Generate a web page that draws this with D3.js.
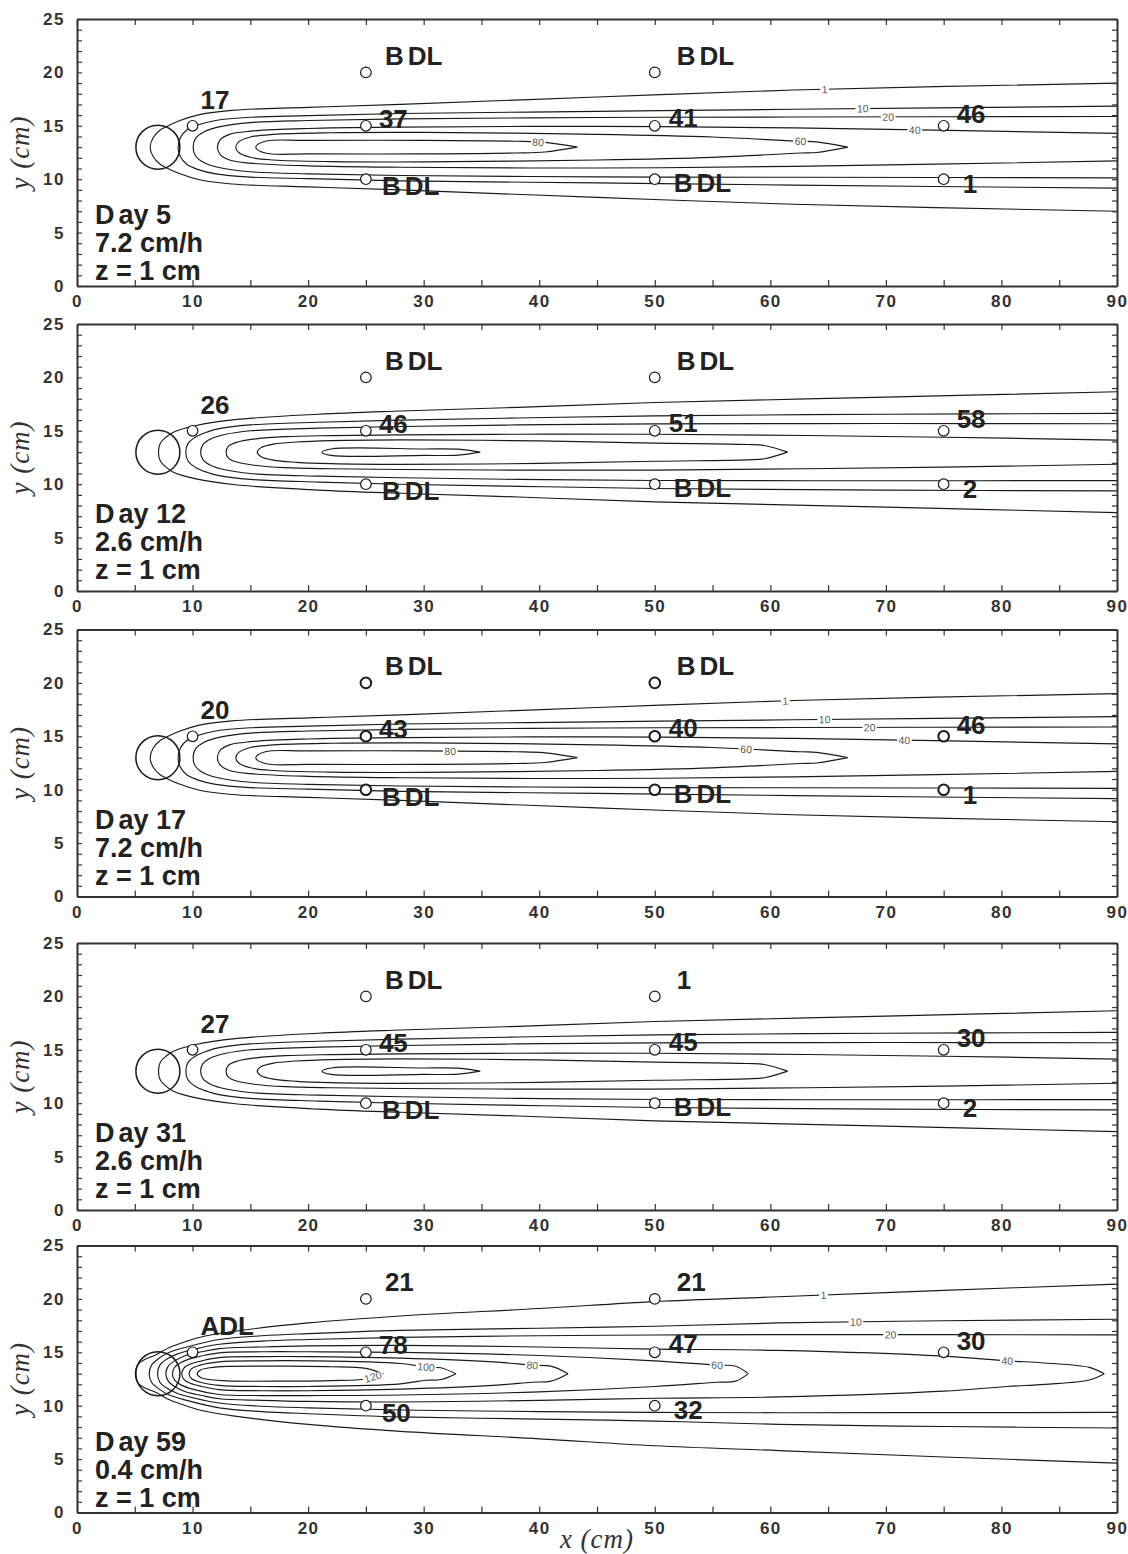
<!DOCTYPE html>
<html><head><meta charset="utf-8">
<script src="https://cdn.jsdelivr.net/npm/d3@7"></script>
<style>body{margin:0;background:#fff;} svg{display:block;}</style>
</head><body>
<svg id="chart" width="1128" height="1554"></svg>
<script>
// ================= DATA =================
const xTicks = [0, 10, 20, 30, 40, 50, 60, 70, 80, 90];
const yTicks = [0, 5, 10, 15, 20, 25];
const sourceX = 7, sourceY = 13;      // injection source (cm)
const plumeCenterY = 13;              // plume centre line (cm)

const panelDays  = ["Day 5", "Day 12", "Day 17", "Day 31", "Day 59"];
const panelRates = ["7.2 cm/h", "2.6 cm/h", "7.2 cm/h", "2.6 cm/h", "0.4 cm/h"];
const panelDepth = "z = 1 cm";

const samplePointsFull  = [[10,15],[25,20],[25,15],[25,10],[50,20],[50,15],[50,10],[75,15],[75,10]];
const samplePointsDay59 = [[10,15],[25,20],[25,15],[25,10],[50,20],[50,15],[50,10],[75,15]];
const sampleLabelsDay5  = ["17","BDL","37","BDL","BDL","41","BDL","46","1"];
const sampleLabelsDay12 = ["26","BDL","46","BDL","BDL","51","BDL","58","2"];
const sampleLabelsDay17 = ["20","BDL","43","BDL","BDL","40","BDL","46","1"];
const sampleLabelsDay31 = ["27","BDL","45","BDL","1","45","BDL","30","2"];
const sampleLabelsDay59 = ["ADL","21","78","50","21","47","32","30"];

// contour half-width profiles [x (cm), half width from centre line (cm)]
// 7.2 cm/h (Day 5, Day 17)
const hw72_1  = [[6.33,0],[6.6,0.9],[7.2,1.6],[7.6,1.85],[8.8,2.45],[10.6,3.05],[13.4,3.45],[20,3.72],[28,4.0],[45,4.7],[62,5.35],[90,6.0]];
const hw72_10 = [[8.75,0],[8.95,0.9],[9.5,1.6],[10.5,2.1],[12,2.5],[15,2.8],[20,2.95],[28,3.15],[45,3.35],[62,3.55],[90,3.84]];
const hw72_20 = [[10.05,0],[10.25,0.8],[11,1.45],[12.5,1.95],[15,2.3],[20,2.5],[28,2.65],[45,2.78],[62,2.82],[90,2.87]];
const hw72_40 = [[12.15,0],[12.4,0.7],[13.2,1.2],[15,1.5],[20,1.75],[28,1.88],[45,1.95],[62,1.8],[90,1.29]];
const hw72_60 = [[13.74,0],[14,0.5],[15,0.95],[17,1.2],[22,1.35],[30,1.38],[45,1.2],[55,0.95],[62.6,0.55],[64,0.5],[66.7,0]];
const hw72_80 = [[15.47,0],[16.3,0.55],[20,0.63],[30,0.63],[38,0.55],[40.5,0.45],[43.3,0]];
// 2.6 cm/h (Day 12, Day 31)
const hw26_1  = [[7.05,0],[7.2,0.8],[7.7,1.4],[8.3,1.85],[10.3,2.5],[13.7,3.05],[20.9,3.55],[28,3.85],[38.2,4.2],[50,4.65],[70,5.15],[90,5.66]];
const hw26_10 = [[9.42,0],[9.6,0.8],[10.3,1.45],[11.3,1.9],[12.3,2.2],[15,2.55],[20.9,2.8],[28,3.0],[38.2,3.2],[50,3.4],[70,3.55],[90,3.63]];
const hw26_20 = [[10.7,0],[10.9,0.7],[11.6,1.25],[12.8,1.65],[15,2.0],[20.9,2.25],[28,2.4],[38.2,2.55],[50,2.65],[70,2.68],[90,2.66]];
const hw26_40 = [[12.9,0],[13.1,0.55],[13.9,0.95],[15.5,1.25],[18,1.45],[22,1.55],[28,1.62],[38.2,1.68],[50,1.68],[75,1.4],[90,1.13]];
const hw26_60 = [[15.6,0],[15.9,0.4],[17,0.75],[19,0.95],[22,1.08],[28,1.15],[40,1.05],[50,0.85],[58,0.72],[59.5,0.62],[61.5,0]];
const hw26_80 = [[21.2,0],[22,0.3],[30,0.3],[33,0.28],[34.9,0]];
// 0.4 cm/h (Day 59)
const hw04_1   = [[5.05,0],[5.3,0.9],[5.9,1.35],[6.8,1.75],[8,2.45],[9.4,3.0],[11,3.5],[13.5,3.95],[20,4.75],[28,5.4],[40,6.1],[50,6.75],[60.7,7.2],[75,7.8],[90,8.38]];
const hw04_10  = [[6.25,0],[6.45,0.8],[7.05,1.4],[8,2.0],[9.5,2.5],[12.3,3.2],[16,3.55],[20,3.75],[28,4.05],[40,4.25],[50,4.44],[60.7,4.75],[75,4.95],[90,5.09]];
const hw04_20  = [[6.97,0],[7.17,0.8],[7.75,1.35],[8.7,1.85],[10.2,2.3],[12.3,2.75],[16,3.05],[20,3.2],[28,3.4],[40,3.55],[50,3.62],[60.7,3.66],[75,3.65],[90,3.63]];
const hw04_40  = [[7.69,0],[7.9,0.7],[8.45,1.2],[9.4,1.7],[10.8,2.05],[12.3,2.35],[16,2.5],[20,2.6],[28,2.65],[40,2.5],[50,2.3],[60.7,2.18],[75,1.64],[80.5,1.2],[83.75,1.0],[87.6,0.59],[88.9,0]];
const hw04_60  = [[8.26,0],[8.45,0.6],[9.0,1.05],[10,1.45],[12.3,1.95],[16,2.05],[20,2.05],[28,2.0],[40,1.7],[50,1.2],[55.4,0.8],[57,0.7],[58.1,0]];
const hw04_80  = [[9.07,0],[9.27,0.55],[9.8,0.9],[10.8,1.2],[12.3,1.5],[16,1.6],[20,1.6],[28,1.45],[36,1.1],[39.4,0.8],[41,0.7],[42.5,0]];
const hw04_100 = [[9.7,0],[9.9,0.45],[10.6,0.78],[12.3,1.1],[16,1.2],[20,1.2],[28,0.95],[30.2,0.62],[31.5,0.55],[32.8,0]];
const hw04_120 = [[10.4,0],[10.7,0.35],[11.5,0.55],[13,0.68],[18,0.7],[22,0.65],[25,0.5],[26.5,0]];

// contour label positions [level, x (cm), branch]
const contourLabelsDay5  = [[1,64.7,"u"],[10,68.0,"u"],[20,70.2,"u"],[40,72.5,"u"],[60,62.6,"u"],[80,39.9,"u"]];
const contourLabelsDay17 = [[1,61.3,"u"],[10,64.7,"u"],[20,68.6,"u"],[40,71.6,"u"],[60,57.9,"u"],[80,32.3,"u"]];
const contourLabelsDay59 = [[1,64.6,"u"],[10,67.4,"u"],[20,70.4,"u"],[40,80.5,"u"],[60,55.4,"u"],[80,39.4,"u"],[100,30.2,"u"],[120,25.6,"l"]];

// ================= LAYOUT =================
const contours72 = [[1,hw72_1],[10,hw72_10],[20,hw72_20],[40,hw72_40],[60,hw72_60],[80,hw72_80]];
const contours26 = [[1,hw26_1],[10,hw26_10],[20,hw26_20],[40,hw26_40],[60,hw26_60],[80,hw26_80]];
const contours04 = [[1,hw04_1],[10,hw04_10],[20,hw04_20],[40,hw04_40],[60,hw04_60],[80,hw04_80],[100,hw04_100],[120,hw04_120]];

const panels = [
  {day: panelDays[0], rate: panelRates[0], pts: samplePointsFull,  labels: sampleLabelsDay5,  contours: contours72, clabels: contourLabelsDay5,  heavy: false},
  {day: panelDays[1], rate: panelRates[1], pts: samplePointsFull,  labels: sampleLabelsDay12, contours: contours26, clabels: [],                 heavy: false},
  {day: panelDays[2], rate: panelRates[2], pts: samplePointsFull,  labels: sampleLabelsDay17, contours: contours72, clabels: contourLabelsDay17, heavy: true},
  {day: panelDays[3], rate: panelRates[3], pts: samplePointsFull,  labels: sampleLabelsDay31, contours: contours26, clabels: [],                 heavy: false},
  {day: panelDays[4], rate: panelRates[4], pts: samplePointsDay59, labels: sampleLabelsDay59, contours: contours04, clabels: contourLabelsDay59, heavy: false}
];

const L = 77, R = 1117, PH = 267;
const panelTops = [19, 324, 629.5, 943, 1245.5];
const textBottom = [6, 12, 12, 12, 6];
const labelOffset = {"10,15":[8,-17],"25,20":[19,-7.5],"25,15":[13,2],"25,10":[16,16],"50,20":[22,-7.5],"50,15":[14,1],"50,10":[19,13],"75,15":[13,-2.5],"75,10":[19,14]};
const ink = "#222";
const BOLD = "'Liberation Sans', Arial, Helvetica, sans-serif";

const svg = d3.select("#chart");
svg.append("rect").attr("width",1128).attr("height",1554).attr("fill","#fff");

function hAt(profile, x){
  for (let i=0;i<profile.length-1;i++){
    const [x0,h0]=profile[i],[x1,h1]=profile[i+1];
    if (x>=x0 && x<=x1) return h0+(h1-h0)*(x-x0)/(x1-x0);
  }
  return profile[profile.length-1][1];
}

panels.forEach((p, i) => {
  const top = panelTops[i], bot = top + PH;
  const xs = d3.scaleLinear().domain([0,90]).range([L,R]);
  const ys = d3.scaleLinear().domain([0,25]).range([bot,top]);
  const g = svg.append("g");

  const clipId = "clip"+i;
  svg.append("clipPath").attr("id",clipId).append("rect")
    .attr("x",L).attr("y",top).attr("width",R-L).attr("height",PH);

  // contours
  const line = d3.line().x(d=>xs(d[0])).y(d=>ys(d[1])).curve(d3.curveCatmullRom.alpha(0.5));
  const cg = g.append("g").attr("clip-path",`url(#${clipId})`);
  p.contours.forEach(([lvl, prof]) => {
    const upper = prof.map(([x,h]) => [x, plumeCenterY + h]);
    const lower = prof.slice(1).map(([x,h]) => [x, plumeCenterY - h]).reverse();
    cg.append("path").attr("d", line(lower.concat(upper)))
      .attr("fill","none").attr("stroke","#1a1a1a").attr("stroke-width",1.15);
  });

  // contour labels
  p.clabels.forEach(([lvl, x, br]) => {
    const prof = p.contours.find(c=>c[0]===lvl)[1];
    const sgn = br==="u" ? 1 : -1;
    const yv = plumeCenterY + sgn*hAt(prof,x);
    const X = xs(x), Y = ys(yv);
    const X1 = xs(x-0.6), Y1 = ys(plumeCenterY + sgn*hAt(prof,x-0.6));
    const X2 = xs(x+0.6), Y2 = ys(plumeCenterY + sgn*hAt(prof,x+0.6));
    const ang = Math.atan2(Y2-Y1, X2-X1)*180/Math.PI;
    const lg = cg.append("g").attr("transform",`translate(${X},${Y}) rotate(${ang})`);
    const bg = lg.append("rect").attr("fill","#fff");
    const t = lg.append("text").text(lvl).attr("text-anchor","middle").attr("dy","0.36em")
      .attr("font-family","'Liberation Sans', Arial, sans-serif").attr("font-size",10.5).attr("fill","#5a5a5a");
    const w = t.node().getComputedTextLength();
    bg.attr("x",-w/2-1.5).attr("y",-3.6).attr("width",w+3).attr("height",7.2);
  });

  // source circle
  g.append("circle").attr("cx",xs(sourceX)).attr("cy",ys(sourceY)).attr("r",22)
    .attr("fill","none").attr("stroke","#1a1a1a").attr("stroke-width",1.5);

  // sample points
  p.pts.forEach(([x,y], k) => {
    g.append("circle").attr("cx",xs(x)).attr("cy",ys(y)).attr("r",5.3)
      .attr("fill","#fff").attr("stroke","#1a1a1a")
      .attr("stroke-width", (p.heavy && x>10) ? 2 : 1.2);
    const off = labelOffset[x+","+y];
    const lab = p.labels[k];
    const t = g.append("text").attr("x",xs(x)+off[0]).attr("y",ys(y)+off[1])
      .attr("font-family",BOLD).attr("font-weight","bold").attr("font-size",26).attr("fill",ink);
    if (lab === "BDL") {
      t.append("tspan").text("B");
      t.append("tspan").attr("dx",4).text("DL");
    } else {
      t.text(lab);
    }
  });

  // panel texts
  const tx = 95;
  const t1 = g.append("text").attr("x",tx).attr("y",bot-textBottom[i]-56)
    .attr("font-family",BOLD).attr("font-weight","bold").attr("font-size",27).attr("fill",ink);
  t1.append("tspan").text(p.day.slice(0,1));
  t1.append("tspan").attr("dx",4).text(p.day.slice(1));
  g.append("text").attr("x",tx).attr("y",bot-textBottom[i]-28).text(p.rate)
    .attr("font-family",BOLD).attr("font-weight","bold").attr("font-size",27).attr("fill",ink);
  g.append("text").attr("x",tx).attr("y",bot-textBottom[i]).text(panelDepth)
    .attr("font-family",BOLD).attr("font-weight","bold").attr("font-size",27).attr("fill",ink);

  // axes
  const xMinor = d3.range(0,91,5);
  const yMinor = d3.range(0,26,1);
  const fmtX = d => xTicks.includes(d) ? d : "";
  const fmtY = d => yTicks.includes(d) ? d : "";
  const axB = g.append("g").attr("transform",`translate(0,${bot})`)
    .call(d3.axisBottom(xs).tickValues(xMinor).tickFormat(fmtX).tickSizeInner(-6).tickSizeOuter(0).tickPadding(9));
  const axT = g.append("g").attr("transform",`translate(0,${top})`)
    .call(d3.axisTop(xs).tickValues(xMinor).tickFormat("").tickSizeInner(-6).tickSizeOuter(0));
  const axL = g.append("g").attr("transform",`translate(${L},0)`)
    .call(d3.axisLeft(ys).tickValues(yMinor).tickFormat(fmtY).tickSizeInner(-5).tickSizeOuter(0).tickPadding(12));
  const axR = g.append("g").attr("transform",`translate(${R},0)`)
    .call(d3.axisRight(ys).tickValues(yMinor).tickFormat("").tickSizeInner(-5).tickSizeOuter(0));
  [axB,axT,axL,axR].forEach(a => {
    a.select(".domain").attr("stroke","#333").attr("stroke-width",2);
    a.selectAll(".tick line").attr("stroke","#333").attr("stroke-width",1.2);
    a.selectAll(".tick text").attr("font-family",BOLD).attr("font-weight","bold")
      .attr("font-size",17).attr("fill","#333").attr("letter-spacing",1.5);
  });

  // y title
  g.append("text").attr("transform",`translate(29,${(top+bot)/2}) rotate(-90)`)
    .attr("text-anchor","middle").text("y (cm)")
    .attr("font-family","'Liberation Serif', 'Times New Roman', serif").attr("font-style","italic")
    .attr("font-size",27).attr("letter-spacing",1).attr("fill","#333");

  if (i === panels.length-1) {
    g.append("text").attr("x",(L+R)/2).attr("y",1548).attr("text-anchor","middle").text("x (cm)")
      .attr("font-family","'Liberation Serif', 'Times New Roman', serif").attr("font-style","italic")
      .attr("font-size",27).attr("letter-spacing",1).attr("fill","#333");
  }
});
</script>
</body></html>
